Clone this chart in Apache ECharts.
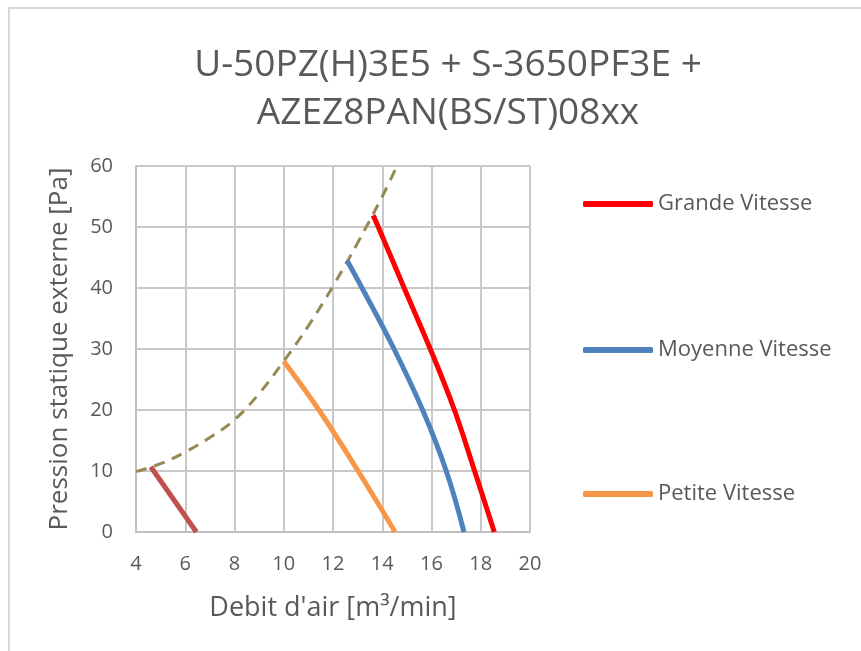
<!DOCTYPE html>
<html>
<head>
<meta charset="utf-8">
<script src="https://cdn.jsdelivr.net/npm/echarts@6/dist/echarts.min.js"></script>
<style>html,body{margin:0;padding:0;background:#fff;}#c{width:861px;height:651px;}</style>
</head>
<body>
<div id="c"></div>
<script>
const titleLines = ['U-50PZ(H)3E5 + S-3650PF3E +', 'AZEZ8PAN(BS/ST)08xx'];
const xAxisName = 'Debit d\'air [m³/min]';
const yAxisName = 'Pression statique externe [Pa]';
const xTicks = {min: 4, max: 20, interval: 2};
const yTicks = {min: 0, max: 60, interval: 10};

const grandeX = [13.63, 13.84, 14.89, 15.95, 16.93, 17.75, 18.55];
const grandeY = [51.9, 50, 40, 30, 20, 10, 0];
const moyenneX = [12.57, 13.18, 14.48, 15.64, 16.6, 17.32];
const moyenneY = [44.5, 40, 30, 20, 10, 0];
const petiteX = [10.0, 11.43, 13.02, 14.52];
const petiteY = [28, 20, 10, 0];
const miniX = [4.6, 6.45];
const miniY = [10.7, 0];
const systemX = [4, 5, 6, 7, 8, 9, 10, 11, 12, 13, 14, 14.6];
const systemY = [9.9, 11.2, 13.1, 15.5, 18.4, 22.7, 28, 33.8, 40.3, 47.4, 55, 60];

const seriesNames = ['Grande Vitesse', 'Moyenne Vitesse', 'Petite Vitesse'];

function zip(xs, ys) { return xs.map((x, i) => [x, ys[i]]); }

const txt = '#595959';
const font = 'Open Sans';
const chart = echarts.init(document.getElementById('c'));

function lg(name, top) {
  return {
    data: [name], left: 578, top: top, orient: 'vertical',
    itemWidth: 70, itemHeight: 6, itemGap: 0, icon: 'roundRect',
    textStyle: {color: txt, fontSize: 22, fontFamily: font, padding: [0,0,0,0]},
    selectedMode: false
  };
}

chart.setOption({
  animation: false,
  backgroundColor: '#fff',
  graphic: [{
    type: 'rect', shape: {x: 9, y: 8, width: 900, height: 700},
    style: {fill: 'none', stroke: '#d9d9d9', lineWidth: 2}, silent: true, z: -1
  }],
  title: {
    text: titleLines.join('\n'), left: 443, textAlign: 'center', top: 36,
    textStyle: {color: txt, fontSize: 37, fontWeight: 'normal', fontFamily: font, lineHeight: 48}
  },
  legend: [lg(seriesNames[0], 188), lg(seriesNames[1], 334), lg(seriesNames[2], 478)],
  grid: {left: 136, right: 331, top: 166, bottom: 119},
  xAxis: {
    type: 'value', min: xTicks.min, max: xTicks.max, interval: xTicks.interval,
    name: xAxisName, nameLocation: 'middle', nameGap: 63,
    nameTextStyle: {color: txt, fontSize: 27, fontFamily: font},
    axisLine: {show: true, lineStyle: {color: '#bfbfbf', width: 2}},
    axisTick: {show: false},
    axisLabel: {color: txt, fontSize: 20, fontFamily: font, margin: 22},
    splitLine: {show: true, lineStyle: {color: '#c8c8c8', width: 2}}
  },
  yAxis: {
    type: 'value', min: yTicks.min, max: yTicks.max, interval: yTicks.interval,
    name: yAxisName, nameLocation: 'middle', nameGap: 63,
    nameTextStyle: {color: txt, fontSize: 26, fontFamily: font},
    axisLine: {show: true, lineStyle: {color: '#bfbfbf', width: 2}},
    axisTick: {show: false},
    axisLabel: {color: txt, fontSize: 20, fontFamily: font, margin: 23},
    splitLine: {show: true, lineStyle: {color: '#c8c8c8', width: 2}}
  },
  series: [
    {name: 'Système', type: 'line', data: zip(systemX, systemY), smooth: 0.4, showSymbol: false,
     lineStyle: {color: '#948A54', width: 3, type: [11, 8]}, itemStyle: {color: '#948A54'}, z: 3},
    {name: 'Mini', type: 'line', data: zip(miniX, miniY), smooth: true, showSymbol: false,
     lineStyle: {color: '#C0504D', width: 5}, itemStyle: {color: '#C0504D'}},
    {name: seriesNames[0], type: 'line', data: zip(grandeX, grandeY), smooth: 0.4, showSymbol: false,
     lineStyle: {color: '#FF0000', width: 5}, itemStyle: {color: '#FF0000'}},
    {name: seriesNames[1], type: 'line', data: zip(moyenneX, moyenneY), smooth: 0.4, showSymbol: false,
     lineStyle: {color: '#4F81BD', width: 5}, itemStyle: {color: '#4F81BD'}},
    {name: seriesNames[2], type: 'line', data: zip(petiteX, petiteY), smooth: 0.4, showSymbol: false,
     lineStyle: {color: '#F79646', width: 5}, itemStyle: {color: '#F79646'}}
  ]
});
</script>
</body>
</html>
